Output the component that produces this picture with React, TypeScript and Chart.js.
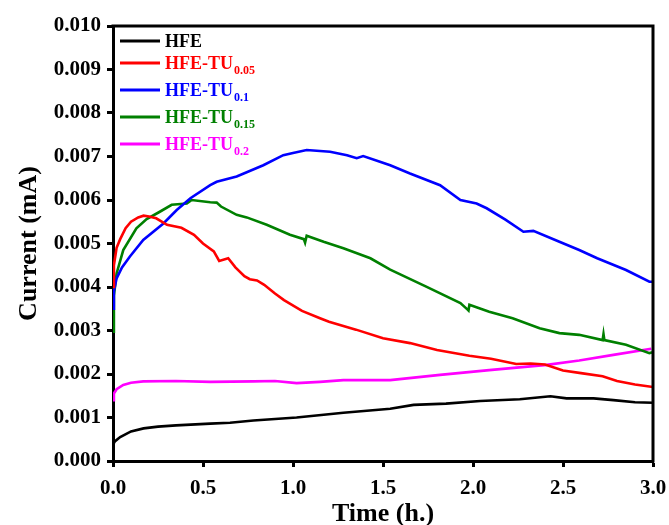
import React, { useEffect, useRef } from "react";
import { Chart, registerables } from "chart.js";

Chart.register(...registerables);

// ---- Data (time in h, current in mA) ----
const hfeTime = [0, 0.01, 0.04, 0.1, 0.17, 0.25, 0.35, 0.54, 0.65, 0.78, 1.02, 1.28, 1.54, 1.67, 1.85, 2.04, 2.26, 2.43, 2.52, 2.67, 2.78, 2.9, 3.0];
const hfeCurrent = [0.00037, 0.00045, 0.00055, 0.00068, 0.00075, 0.00079, 0.00082, 0.00086, 0.00088, 0.00093, 0.001, 0.00111, 0.0012, 0.00129, 0.00132, 0.00138, 0.00142, 0.00149, 0.00144, 0.00144, 0.0014, 0.00135, 0.00134];

const tu005Time = [0, 0.005, 0.02, 0.04, 0.07, 0.1, 0.14, 0.17, 0.2, 0.24, 0.3, 0.38, 0.45, 0.5, 0.56, 0.59, 0.64, 0.68, 0.73, 0.76, 0.8, 0.84, 0.9, 0.95, 1.05, 1.15, 1.2, 1.35, 1.5, 1.65, 1.8, 1.98, 2.1, 2.24, 2.32, 2.4, 2.5, 2.6, 2.72, 2.8, 2.9, 3.0];
const tu005Current = [0.004, 0.0045, 0.0049, 0.0051, 0.00535, 0.0055, 0.0056, 0.00564, 0.00562, 0.00558, 0.00543, 0.00536, 0.0052, 0.005, 0.00482, 0.0046, 0.00466, 0.00445, 0.00425, 0.00418, 0.00415, 0.00405, 0.00385, 0.0037, 0.00345, 0.00328, 0.0032, 0.00302, 0.00282, 0.00271, 0.00255, 0.00242, 0.00235, 0.00223, 0.00224, 0.00222, 0.00208, 0.00202, 0.00195, 0.00184, 0.00176, 0.0017];

const tu01Time = [0, 0.005, 0.02, 0.05, 0.094, 0.168, 0.28, 0.354, 0.43, 0.54, 0.576, 0.687, 0.835, 0.946, 1.0, 1.076, 1.206, 1.3, 1.354, 1.39, 1.483, 1.54, 1.65, 1.817, 1.93, 2.02, 2.076, 2.18, 2.28, 2.335, 2.48, 2.59, 2.69, 2.85, 2.98, 3.0];
const tu01Current = [0.0035, 0.0039, 0.0042, 0.00445, 0.0047, 0.00508, 0.00546, 0.00577, 0.00604, 0.00634, 0.00642, 0.00654, 0.0068, 0.00703, 0.00708, 0.00715, 0.00711, 0.00703, 0.00696, 0.00701, 0.00688, 0.0068, 0.00661, 0.00634, 0.006, 0.00592, 0.00581, 0.00555, 0.00527, 0.00529, 0.00504, 0.00485, 0.00466, 0.00439, 0.00412, 0.00412];

const tu015Time = [0, 0.005, 0.02, 0.057, 0.13, 0.187, 0.26, 0.326, 0.41, 0.437, 0.54, 0.576, 0.6, 0.687, 0.743, 0.854, 0.983, 1.06, 1.067, 1.076, 1.17, 1.28, 1.43, 1.54, 1.74, 1.93, 1.97, 1.975, 1.98, 2.09, 2.22, 2.37, 2.48, 2.59, 2.72, 2.725, 2.73, 2.85, 2.98, 3.0];
const tu015Current = [0.00297, 0.0038, 0.00431, 0.00485, 0.00535, 0.00556, 0.00573, 0.00589, 0.00592, 0.006, 0.00595, 0.00594, 0.00585, 0.00566, 0.0056, 0.00543, 0.0052, 0.0051, 0.00502, 0.00518, 0.00504, 0.00489, 0.00466, 0.0044, 0.00401, 0.00363, 0.00348, 0.00346, 0.00359, 0.00343, 0.00328, 0.00305, 0.00294, 0.0029, 0.00278, 0.00292, 0.00278, 0.00267, 0.00248, 0.0025];

const tu02Time = [0, 0.005, 0.02, 0.057, 0.1, 0.168, 0.35, 0.54, 0.78, 0.9, 1.02, 1.15, 1.28, 1.54, 1.817, 2.09, 2.41, 2.59, 2.78, 2.99];
const tu02Current = [0.0014, 0.00155, 0.00165, 0.00175, 0.0018, 0.00183, 0.00184, 0.00182, 0.00183, 0.00184, 0.00179, 0.00182, 0.00186, 0.00186, 0.00198, 0.00209, 0.00221, 0.00231, 0.00244, 0.00258];

const legendBase = ["HFE", "HFE-TU", "HFE-TU", "HFE-TU", "HFE-TU"];
const legendSub = ["", "0.05", "0.1", "0.15", "0.2"];
const seriesColors = ["#000000", "#ff0000", "#0000ff", "#008000", "#ff00ff"];

const xTickStep = 0.5;
const yTickStep = 0.001;

const FONT = "'Liberation Serif', 'Times New Roman', serif";

function pts(t: number[], v: number[]) {
  return t.map((x, i) => ({ x, y: v[i] }));
}

export default function App() {
  const ref = useRef<HTMLCanvasElement | null>(null);

  useEffect(() => {
    document.body.style.margin = "0";
    const canvas = ref.current;
    if (!canvas) return;

    const series = [
      pts(hfeTime, hfeCurrent),
      pts(tu005Time, tu005Current),
      pts(tu01Time, tu01Current),
      pts(tu015Time, tu015Current),
      pts(tu02Time, tu02Current),
    ];

    const framePlugin = {
      id: "frame",
      afterDraw(chart: any) {
        const { ctx, chartArea } = chart;
        const { left, right, top, bottom } = chartArea;
        ctx.save();
        ctx.strokeStyle = "#000";
        ctx.lineWidth = 3;
        ctx.lineCap = "square";
        ctx.beginPath();
        ctx.moveTo(left, top);
        ctx.lineTo(right, top);
        ctx.lineTo(right, bottom);
        ctx.stroke();

        // axis titles
        ctx.fillStyle = "#000";
        ctx.font = `bold 26px ${FONT}`;
        ctx.textAlign = "center";
        ctx.textBaseline = "alphabetic";
        ctx.fillText("Time (h.)", (left + right) / 2, 521);
        ctx.save();
        ctx.translate(36, (top + bottom) / 2);
        ctx.rotate(-Math.PI / 2);
        ctx.fillText("Current (mA)", 0, 0);
        ctx.restore();

        // legend
        const rowsY = [41, 63, 90, 117, 144];
        for (let i = 0; i < legendBase.length; i++) {
          const y = rowsY[i];
          ctx.strokeStyle = seriesColors[i];
          ctx.lineWidth = 3;
          ctx.lineCap = "butt";
          ctx.beginPath();
          ctx.moveTo(120, y);
          ctx.lineTo(160, y);
          ctx.stroke();
          ctx.fillStyle = seriesColors[i];
          ctx.textAlign = "left";
          ctx.textBaseline = "alphabetic";
          ctx.font = `bold 18px ${FONT}`;
          ctx.fillText(legendBase[i], 165, y + 6);
          const w = ctx.measureText(legendBase[i]).width;
          if (legendSub[i]) {
            ctx.font = `bold 12px ${FONT}`;
            ctx.fillText(legendSub[i], 165 + w + 1, y + 11);
          }
        }
        ctx.restore();
      },
    };

    const chart = new Chart(canvas, {
      type: "line",
      data: {
        datasets: series.map((d, i) => ({
          label: legendBase[i] + legendSub[i],
          data: d,
          borderColor: seriesColors[i],
          backgroundColor: seriesColors[i],
          borderWidth: 2.6,
          pointRadius: 0,
          tension: 0,
          fill: false,
        })),
      },
      options: {
        responsive: false,
        animation: false,
        parsing: true,
        layout: { padding: { left: 0, top: 26, right: 16, bottom: 0 } },
        plugins: {
          legend: { display: false },
          tooltip: { enabled: false },
        },
        scales: {
          x: {
            type: "linear",
            min: 0,
            max: 3,
            afterFit: (s: any) => {
              s.height = 64;
              s.paddingLeft = 0;
              s.paddingRight = 0;
            },
            ticks: {
              stepSize: xTickStep,
              color: "#000",
              padding: 9,
              font: { family: FONT, size: 21, weight: "bold" },
              callback: (v: any) => Number(v).toFixed(1),
              maxRotation: 0,
            },
            grid: {
              display: true,
              drawOnChartArea: false,
              drawTicks: true,
              tickLength: 6,
              tickWidth: 3,
              tickColor: "#000",
            },
            border: { display: true, color: "#000", width: 3 },
          },
          y: {
            type: "linear",
            min: 0,
            max: 0.01,
            afterFit: (s: any) => {
              s.width = 113;
              s.paddingTop = 0;
              s.paddingBottom = 0;
            },
            ticks: {
              stepSize: yTickStep,
              color: "#000",
              padding: 6,
              font: { family: FONT, size: 21, weight: "bold" },
              callback: (v: any) => Number(v).toFixed(3),
            },
            grid: {
              display: true,
              drawOnChartArea: false,
              drawTicks: true,
              tickLength: 6,
              tickWidth: 3,
              tickColor: "#000",
            },
            border: { display: true, color: "#000", width: 3 },
          },
        },
      } as any,
      plugins: [framePlugin],
    });

    return () => chart.destroy();
  }, []);

  return (
    <div style={{ position: "absolute", left: 0, top: 0, width: 669, height: 525, background: "#fff" }}>
      <canvas ref={ref} width={669} height={525} style={{ display: "block" }} />
    </div>
  );
}
